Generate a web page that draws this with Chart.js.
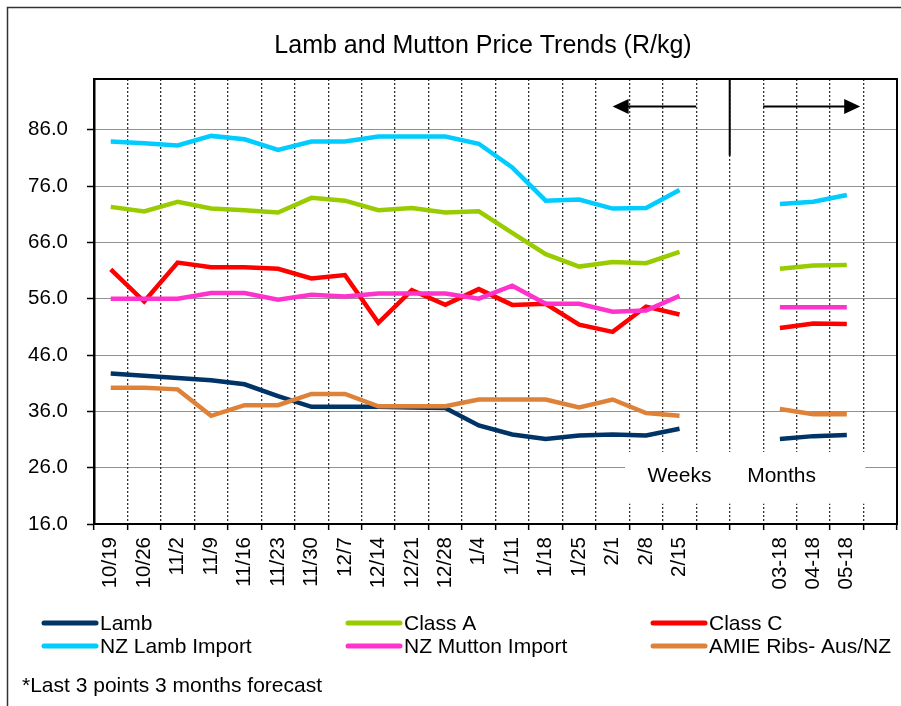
<!DOCTYPE html>
<html>
<head>
<meta charset="utf-8">
<script src="https://cdn.jsdelivr.net/npm/chart.js@4.4.1/dist/chart.umd.min.js"></script>
<style>
  html, body { margin: 0; padding: 0; background: #fff; }
  canvas { display: block; }
</style>
</head>
<body>
<canvas id="priceChart" width="901" height="706"></canvas>
<script>
// weekly points, two empty slots, 3 monthly forecast points, one empty slot
const categories = ['10/19', '10/26', '11/2', '11/9', '11/16', '11/23', '11/30', '12/7', '12/14', '12/21',
  '12/28', '1/4', '1/11', '1/18', '1/25', '2/1', '2/8', '2/15', '', '', '03-18', '04-18', '05-18', '']

const lamb = [42.7, 42.3, 41.9, 41.5, 40.8, 38.7, 36.8, 36.8, 36.8, 36.7, 36.6, 33.5, 31.9, 31.1, 31.7, 31.9, 31.7, 32.9, null, null, 31.1, 31.6, 31.8, null]
const classA = [72.3, 71.5, 73.2, 72.0, 71.7, 71.3, 73.9, 73.4, 71.7, 72.1, 71.3, 71.5, 67.7, 63.9, 61.7, 62.5, 62.3, 64.3, null, null, 61.3, 61.9, 62.0, null]
const classC = [61.2, 55.5, 62.4, 61.6, 61.6, 61.3, 59.6, 60.2, 51.7, 57.5, 54.9, 57.7, 54.9, 55.1, 51.4, 50.1, 54.6, 53.2, null, null, 50.8, 51.6, 51.5, null]
const nzLamb = [83.9, 83.6, 83.2, 84.9, 84.3, 82.4, 83.9, 83.9, 84.8, 84.8, 84.8, 83.5, 79.3, 73.4, 73.6, 72.0, 72.1, 75.3, null, null, 72.8, 73.2, 74.4, null]
const nzMutton = [56.0, 56.0, 56.0, 57.0, 57.0, 55.8, 56.7, 56.4, 56.9, 56.9, 56.9, 56.0, 58.3, 55.1, 55.1, 53.7, 53.9, 56.5, null, null, 54.5, 54.5, 54.5, null]
const amie = [40.2, 40.2, 39.9, 35.2, 37.1, 37.1, 39.1, 39.1, 36.9, 36.9, 36.9, 38.1, 38.1, 38.1, 36.7, 38.1, 35.7, 35.2, null, null, 36.4, 35.5, 35.5, null]

const yTicks = [16, 26, 36, 46, 56, 66, 76, 86]

const FONT = "'Liberation Sans', Arial, sans-serif"

const series = [
  { label: 'Lamb', data: lamb, color: '#003366' },
  { label: 'Class A', data: classA, color: '#99CC00' },
  { label: 'Class C', data: classC, color: '#FF0000' },
  { label: 'NZ Lamb Import', data: nzLamb, color: '#00CCFF' },
  { label: 'NZ Mutton Import', data: nzMutton, color: '#FF33CC' },
  { label: 'AMIE Ribs- Aus/NZ', data: amie, color: '#DE823A' }
]

function arrow(ctx, x1, x2, y) {
  // line from x1 to tip x2 with a filled head
  const dir = x2 > x1 ? 1 : -1
  ctx.beginPath()
  ctx.moveTo(x1, y)
  ctx.lineTo(x2 - dir * 14, y)
  ctx.stroke()
  ctx.beginPath()
  ctx.moveTo(x2, y)
  ctx.lineTo(x2 - dir * 16, y - 7.5)
  ctx.lineTo(x2 - dir * 16, y + 7.5)
  ctx.closePath()
  ctx.fill()
}

const decor = {
  id: 'decor',
  beforeDraw(chart) {
    const ctx = chart.ctx
    ctx.save()
    ctx.fillStyle = '#fff'
    ctx.fillRect(0, 0, chart.width, chart.height)
    ctx.strokeStyle = '#333'
    ctx.lineWidth = 1.5
    ctx.strokeRect(7.5, 7.5, chart.width + 20, chart.height + 20)
    ctx.restore()
  },
  beforeDatasetsDraw(chart) {
    // white box with Weeks / Months over the grid
    const ctx = chart.ctx
    const xs = chart.scales.x, ys = chart.scales.y
    const left = xs.getPixelForValue(15.37), right = xs.getPixelForValue(22.55)
    const top = ys.getPixelForValue(28.8), bottom = ys.getPixelForValue(19.6)
    ctx.save()
    ctx.fillStyle = '#fff'
    ctx.fillRect(left, top, right - left, bottom - top)
    ctx.fillStyle = '#000'
    ctx.font = '21px ' + FONT
    ctx.textAlign = 'center'
    ctx.textBaseline = 'alphabetic'
    const base = ys.getPixelForValue(23.4)
    ctx.fillText('Weeks', xs.getPixelForValue(17.0), base)
    ctx.fillText('Months', xs.getPixelForValue(20.05), base)
    ctx.restore()
  },
  afterDraw(chart) {
    const ctx = chart.ctx
    const a = chart.chartArea
    const xs = chart.scales.x, ys = chart.scales.y
    ctx.save()

    // plot frame
    ctx.strokeStyle = '#000'
    ctx.lineWidth = 2
    ctx.strokeRect(a.left, a.top, a.right - a.left, a.bottom - a.top)

    // weeks / months arrows and divider
    ctx.fillStyle = '#000'
    ctx.lineWidth = 2
    const ay = ys.getPixelForValue(90.1)
    arrow(ctx, xs.getPixelForValue(17.5), xs.getPixelForValue(15.0), ay)
    arrow(ctx, xs.getPixelForValue(19.5), xs.getPixelForValue(22.4), ay)
    ctx.beginPath()
    const dx = xs.getPixelForValue(18.5)
    ctx.moveTo(dx, a.top)
    ctx.lineTo(dx, ys.getPixelForValue(81.4))
    ctx.stroke()

    // title
    ctx.font = '25px ' + FONT
    ctx.textAlign = 'center'
    ctx.textBaseline = 'alphabetic'
    ctx.fillText('Lamb and Mutton Price Trends (R/kg)', 483, 53)

    // legend, 3 columns x 2 rows
    const cols = [42, 346, 651]
    const rows = [623, 646]
    ctx.font = '21px ' + FONT
    ctx.textAlign = 'left'
    ctx.textBaseline = 'middle'
    ctx.lineCap = 'round'
    chart.data.datasets.forEach((ds, i) => {
      const x = cols[i % 3], y = rows[Math.floor(i / 3)]
      ctx.strokeStyle = ds.borderColor
      ctx.lineWidth = 5
      ctx.beginPath()
      ctx.moveTo(x + 2, y)
      ctx.lineTo(x + 54, y)
      ctx.stroke()
      ctx.fillStyle = '#000'
      ctx.fillText(ds.label, x + 58, y + 1)
    })

    // footnote
    ctx.fillText('*Last 3 points 3 months forecast', 22, 686)
    ctx.restore()
  }
}

const priceChart = new Chart(document.getElementById('priceChart'), {
  type: 'line',
  data: {
    labels: categories,
    datasets: series.map((s, i) => ({
      label: s.label,
      data: s.data,
      borderColor: s.color,
      backgroundColor: s.color,
      borderWidth: 4.5,
      pointRadius: 0,
      tension: 0,
      spanGaps: false,
      order: series.length - i
    }))
  },
  options: {
    responsive: false,
    animation: false,
    layout: { padding: { left: 0, right: 4, top: 79, bottom: 0 } },
    plugins: {
      legend: { display: false },
      title: { display: false },
      tooltip: { enabled: false }
    },
    scales: {
      x: {
        offset: true,
        afterFit(scale) {
          scale.height = 182
          scale.paddingLeft = 0
          scale.paddingRight = 0
        },
        grid: {
          offset: true,
          color: '#333',
          lineWidth: 1.3,
          tickColor: '#000',
          tickLength: 6,
          tickWidth: 1.5,
          tickBorderDash: []
        },
        border: { display: true, color: '#000', width: 2, dash: [2, 2] },
        ticks: {
          color: '#000',
          font: { family: FONT, size: 20.5 },
          minRotation: 90,
          maxRotation: 90,
          autoSkip: false,
          padding: 7
        }
      },
      y: {
        min: 16,
        max: 95,
        afterFit(scale) {
          scale.width = 94
          scale.paddingTop = 0
          scale.paddingBottom = 0
        },
        afterBuildTicks(scale) { scale.ticks = yTicks.map(v => ({ value: v })) },
        grid: {
          color: '#222',
          lineWidth: 1,
          tickColor: '#000',
          tickLength: 7,
          tickWidth: 1.5,
          tickBorderDash: []
        },
        border: { display: true, color: '#000', width: 2.5, dash: [1, 1] },
        ticks: {
          color: '#000',
          font: { family: FONT, size: 20.5 },
          padding: 19,
          callback: v => v.toFixed(1)
        }
      }
    }
  },
  plugins: [decor]
})
</script>
</body>
</html>
